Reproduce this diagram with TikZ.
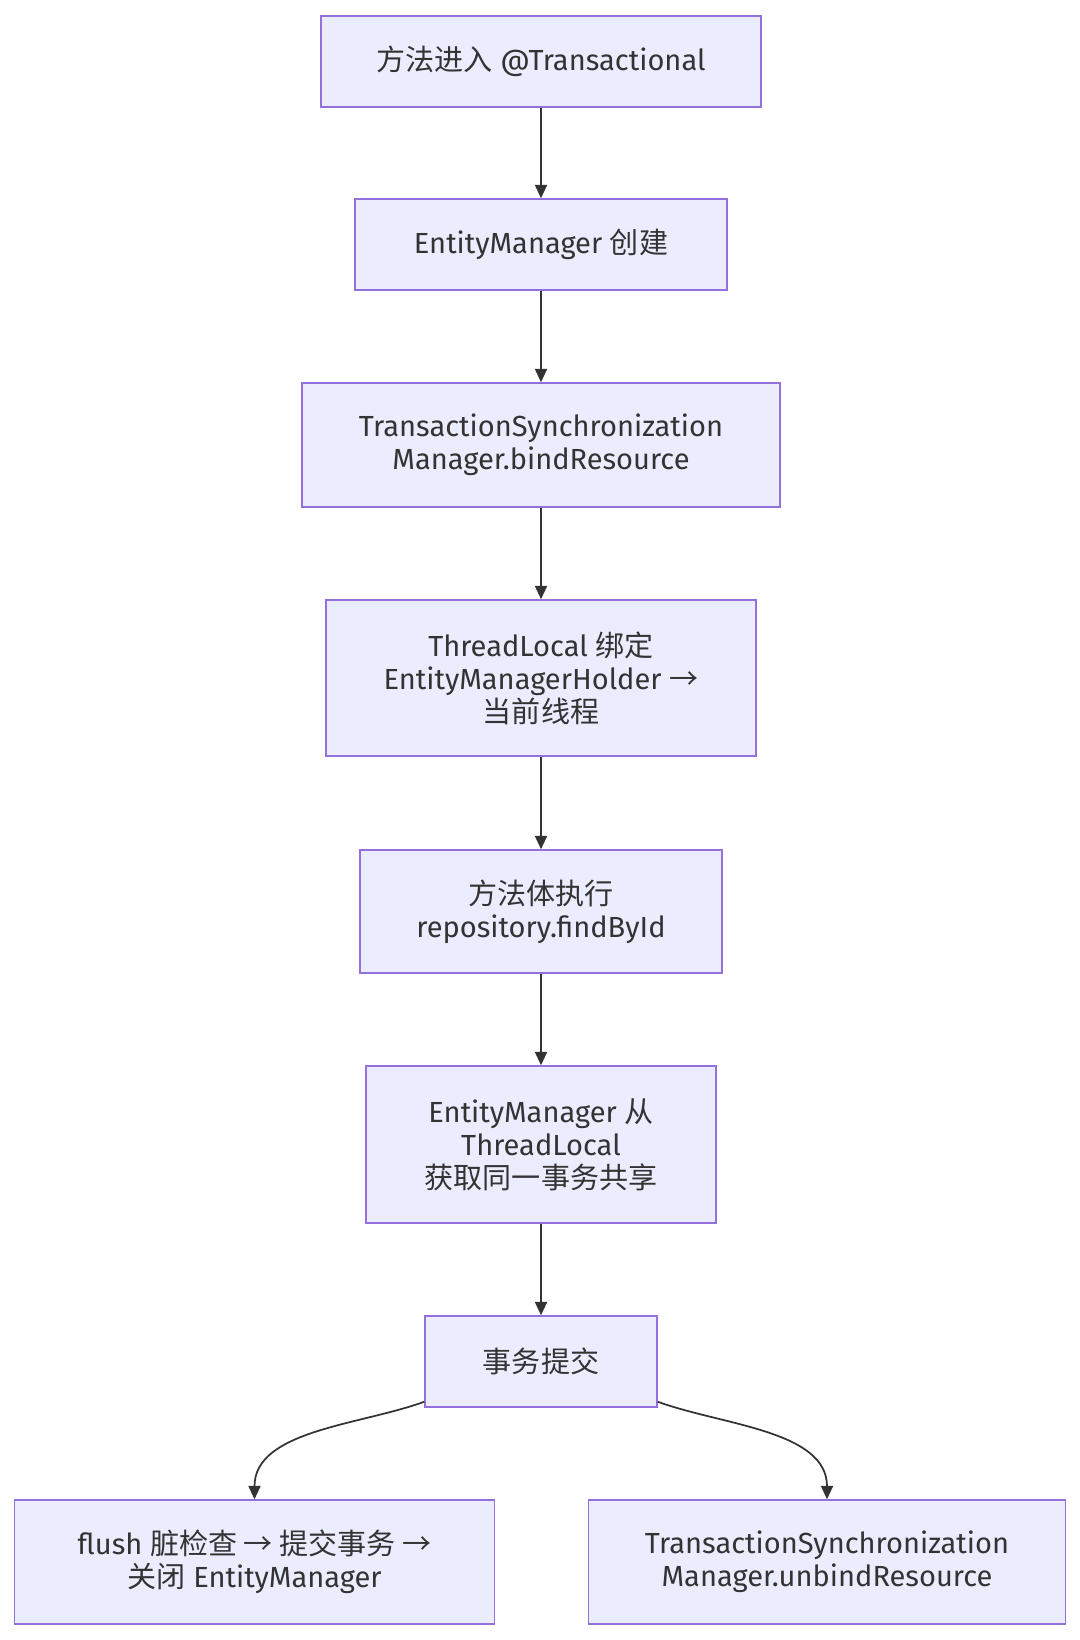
\documentclass[tikz,border=0pt]{standalone}
\usepackage{fontspec}
\setmainfont{Fira Sans}
\newfontfamily\cjk{Noto Sans CJK SC}
\usetikzlibrary{positioning,arrows.meta}

\definecolor{boxfill}{HTML}{ECECFF}
\definecolor{boxline}{HTML}{9370DB}
\definecolor{ink}{HTML}{333333}

\tikzset{
  box/.style={draw=boxline,fill=boxfill,line width=1.1pt,inner sep=0pt,
    align=center,text=ink,font=\fontsize{21.8pt}{24.75pt}\selectfont},
  flow/.style={draw=ink,line width=1.3pt,-{Triangle[length=10pt,width=9pt]}}
}

\begin{document}
\begin{tikzpicture}[x=0.75pt,y=-0.75pt]
        \useasboundingbox[fill=white] (0,0) rectangle (1080,1640);
        % main chain
        \node[box,minimum width=330pt,minimum height=68.25pt] (enter) at (541,61.5) {{\cjk 方法进入} @Transactional};
        \node[box,minimum width=279pt,minimum height=68.25pt] (create) at (541,244.5) {EntityManager {\cjk 创建}};
        \node[box,minimum width=358.5pt,minimum height=93pt] (bind) at (541,445) {TransactionSynchronization\\Manager.bindResource};
        \node[box,minimum width=322.5pt,minimum height=117pt] (thread) at (541,678) {ThreadLocal {\cjk 绑定}\\EntityManagerHolder {\cjk →}\\{\cjk 当前线程}};
        \node[box,minimum width=271.5pt,minimum height=92.25pt] (body) at (541,911.5) {{\cjk 方法体执行}\\repository.findById};
        \node[box,minimum width=262.5pt,minimum height=117.75pt] (share) at (541,1144.5) {EntityManager {\cjk 从}\\ThreadLocal\\{\cjk 获取同一事务共享}};
        \node[box,minimum width=174pt,minimum height=68.25pt] (commit) at (541,1361.5) {{\cjk 事务提交}};
        % two endings
        \node[box,minimum width=360pt,minimum height=93pt] (flush) at (254.5,1562) {flush {\cjk 脏检查 → 提交事务 →}\\{\cjk 关闭} EntityManager};
        \node[box,minimum width=357.75pt,minimum height=93pt] (unbind) at (827,1562) {TransactionSynchronization\\Manager.unbindResource};
        % connectors
        \draw[flow] (enter) -- (create);
        \draw[flow] (create) -- (bind);
        \draw[flow] (bind) -- (thread);
        \draw[flow] (thread) -- (body);
        \draw[flow] (body) -- (share);
        \draw[flow] (share) -- (commit);
        \draw[flow] ([yshift=4.5pt]commit.south west) to[out=200,in=90,looseness=0.9] (flush.north);
        \draw[flow] ([yshift=4.5pt]commit.south east) to[out=-20,in=90,looseness=0.9] (unbind.north);
\end{tikzpicture}
\end{document}
